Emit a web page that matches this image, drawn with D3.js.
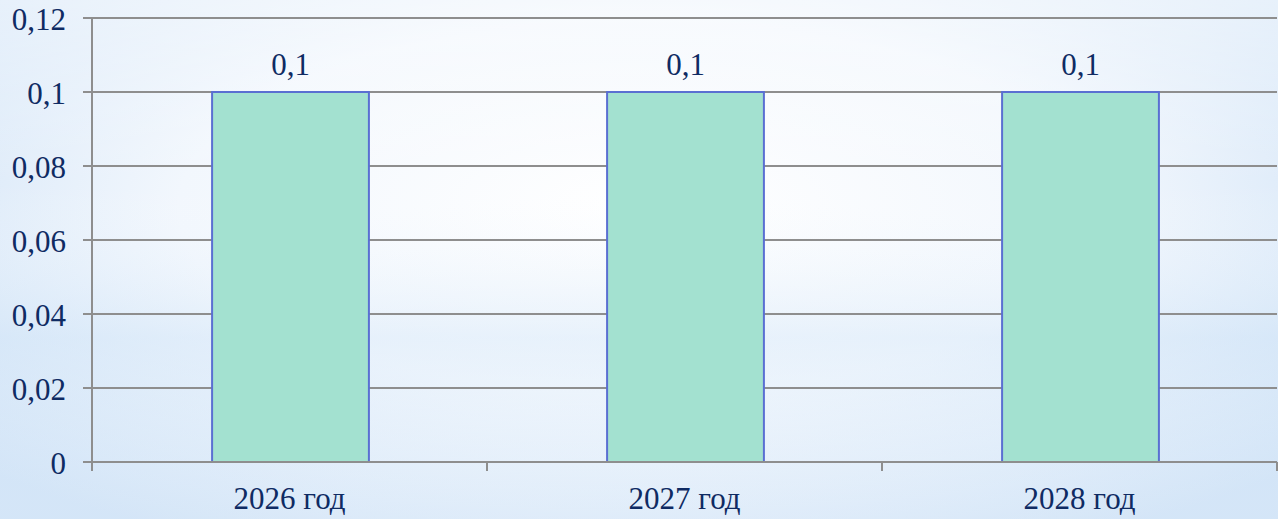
<!DOCTYPE html>
<html>
<head>
<meta charset="utf-8">
<script src="https://cdn.jsdelivr.net/npm/d3@7"></script>
<style>
  html, body { margin: 0; padding: 0; }
  body { width: 1278px; height: 519px; overflow: hidden; }
  svg { display: block; }
</style>
</head>
<body>
<script>
// chart data
var categories = ['2026 год', '2027 год', '2028 год'];
var values = [0.1, 0.1, 0.1];
var yTicks = [0, 0.02, 0.04, 0.06, 0.08, 0.1, 0.12];
var yTickLabels = ['0', '0,02', '0,04', '0,06', '0,08', '0,1', '0,12'];

var W = 1278, H = 519;
var plotLeft = 92, plotRight = 1277, plotTop = 18, plotBottom = 462;
var textColor = '#0f2b63';
var gridColor = '#8e8e8e';
var fontFam = '"Liberation Serif", "Times New Roman", serif';
var fontSize = 31;

var svg = d3.select('body').append('svg')
    .attr('width', W)
    .attr('height', H)

var defs = svg.append('defs');
var rg = defs.append('radialGradient')
    .attr('id', 'bg')
    .attr('cx', '50%').attr('cy', '40%').attr('r', '72%')
rg.append('stop').attr('offset', '0%').attr('stop-color', '#ffffff')
rg.append('stop').attr('offset', '50%').attr('stop-color', '#f2f7fd')
rg.append('stop').attr('offset', '100%').attr('stop-color', '#c6ddf5')

var lg = defs.append('linearGradient')
    .attr('id', 'band')
    .attr('x1', 0).attr('y1', 0).attr('x2', 0).attr('y2', 1)
lg.append('stop').attr('offset', '0%').attr('stop-color', '#ffffff').attr('stop-opacity', 0.5)
lg.append('stop').attr('offset', '35%').attr('stop-color', '#ffffff').attr('stop-opacity', 0)
lg.append('stop').attr('offset', '65%').attr('stop-color', '#d3e6f8').attr('stop-opacity', 0.4)
lg.append('stop').attr('offset', '100%').attr('stop-color', '#ffffff').attr('stop-opacity', 0.25)

svg.append('rect').attr('width', W).attr('height', H).attr('fill', '#eaf3fc')
svg.append('rect').attr('width', W).attr('height', H).attr('fill', 'url(#bg)')
svg.append('rect').attr('width', W).attr('height', H).attr('fill', 'url(#band)')

var x = d3.scaleBand()
    .domain(categories)
    .range([plotLeft, plotRight])
    .padding(0)

var y = d3.scaleLinear()
    .domain([0, 0.12])
    .range([plotBottom, plotTop])

// gridlines
svg.append('g')
    .selectAll('line')
    .data(yTicks)
    .enter().append('line')
    .attr('x1', plotLeft - 9)
    .attr('x2', plotRight)
    .attr('y1', function (d) { return y(d) })
    .attr('y2', function (d) { return y(d) })
    .attr('stroke', gridColor)
    .attr('stroke-width', 2)

// y labels
svg.append('g')
    .selectAll('text')
    .data(yTicks)
    .enter().append('text')
    .attr('x', 66)
    .attr('y', function (d) { return y(d) + 11.5 })
    .attr('text-anchor', 'end')
    .attr('font-family', fontFam)
    .attr('font-size', fontSize)
    .attr('fill', textColor)
    .text(function (d, i) { return yTickLabels[i] })

// bars
var barW = x.bandwidth() * 0.397;
svg.append('g')
    .selectAll('rect')
    .data(values)
    .enter().append('rect')
    .attr('x', function (d, i) { return x(categories[i]) + x.bandwidth() / 2 - barW / 2 + 1 })
    .attr('y', function (d) { return y(d) })
    .attr('width', barW)
    .attr('height', function (d) { return y(0) - y(d) })
    .attr('fill', '#a3e1d0')
    .attr('stroke', '#5a6fd2')
    .attr('stroke-width', 2)

// value labels
svg.append('g')
    .selectAll('text')
    .data(values)
    .enter().append('text')
    .attr('x', function (d, i) { return x(categories[i]) + x.bandwidth() / 2 + 1 })
    .attr('y', function (d) { return y(d) - 17 })
    .attr('text-anchor', 'middle')
    .attr('font-family', fontFam)
    .attr('font-size', fontSize)
    .attr('fill', textColor)
    .text(function (d) { return String(d).replace('.', ',') })

// axes lines
svg.append('line')
    .attr('x1', plotLeft).attr('x2', plotLeft)
    .attr('y1', plotTop).attr('y2', plotBottom + 9)
    .attr('stroke', gridColor).attr('stroke-width', 2)

svg.append('line')
    .attr('x1', plotLeft).attr('x2', plotRight)
    .attr('y1', plotBottom).attr('y2', plotBottom)
    .attr('stroke', gridColor).attr('stroke-width', 2)

// x ticks at band boundaries
var bounds = categories.map(function (c) { return x(c) }).concat([plotRight]);
svg.append('g')
    .selectAll('line')
    .data(bounds)
    .enter().append('line')
    .attr('x1', function (d) { return d })
    .attr('x2', function (d) { return d })
    .attr('y1', plotBottom)
    .attr('y2', plotBottom + 9)
    .attr('stroke', gridColor)
    .attr('stroke-width', 2)

// category labels
svg.append('g')
    .selectAll('text')
    .data(categories)
    .enter().append('text')
    .attr('x', function (d) { return x(d) + x.bandwidth() / 2 })
    .attr('y', 509)
    .attr('text-anchor', 'middle')
    .attr('font-family', fontFam)
    .attr('font-size', fontSize)
    .attr('fill', textColor)
    .text(function (d) { return d })
</script>
</body>
</html>
